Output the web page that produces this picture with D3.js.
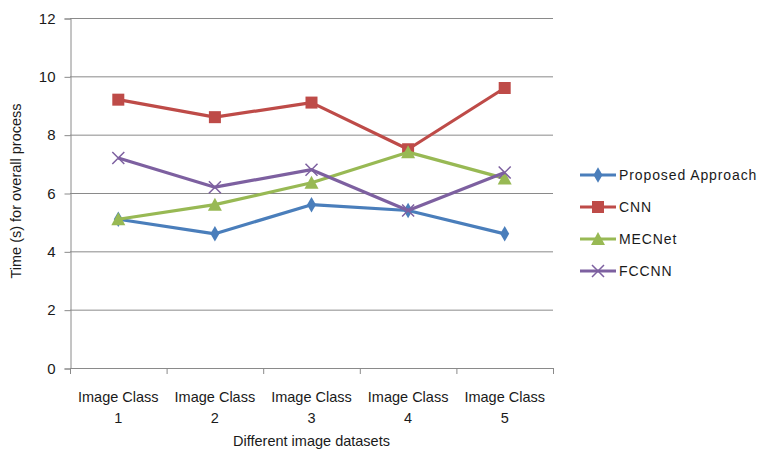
<!DOCTYPE html>
<html>
<head>
<meta charset="utf-8">
<script src="https://cdn.jsdelivr.net/npm/d3@7"></script>
<style>
  body { margin: 0; background: #fff; }
  text { font-family: "Liberation Sans", Arial, sans-serif; fill: #1a1a1a; }
</style>
</head>
<body>
<svg id="chart" width="763" height="450"></svg>
<script>
// Categories and series
const categories = ["Image Class 1", "Image Class 2", "Image Class 3", "Image Class 4", "Image Class 5"];
const proposed = [5.1, 4.6, 5.6, 5.4, 4.6];
const cnn = [9.2, 8.6, 9.1, 7.5, 9.6];
const mecnet = [5.1, 5.6, 6.35, 7.4, 6.5];
const fccnn = [7.2, 6.2, 6.8, 5.4, 6.7];
const yTicks = [0, 2, 4, 6, 8, 10, 12];

const series = [
  { name: "Proposed Approach", values: proposed, color: "#4A7EBB", symbol: "diamond" },
  { name: "CNN", values: cnn, color: "#BE4B48", symbol: "square" },
  { name: "MECNet", values: mecnet, color: "#98B954", symbol: "triangle" },
  { name: "FCCNN", values: fccnn, color: "#7D60A0", symbol: "cross" }
];

const svg = d3.select("#chart");
const plotL = 70, plotR = 553, plotT = 18, plotB = 368;

const x = d3.scaleBand().domain(categories).range([plotL, plotR]).padding(0);
const y = d3.scaleLinear().domain([0, 12]).range([plotB, plotT]);
const grid = "#8A8A8A";

// Horizontal gridlines
svg.append("g").selectAll("line").data(yTicks.filter(d => d > 0)).join("line")
  .attr("x1", plotL).attr("x2", plotR)
  .attr("y1", d => y(d) + 0.5).attr("y2", d => y(d) + 0.5)
  .attr("stroke", grid).attr("stroke-width", 1);

// Y axis
const yAxis = svg.append("g").attr("transform", `translate(${plotL + 0.5},0.5)`)
  .call(d3.axisLeft(y).tickValues(yTicks).tickSize(6).tickPadding(9));
yAxis.select(".domain").attr("stroke", grid);
yAxis.selectAll(".tick line").attr("stroke", grid);
yAxis.selectAll(".tick text").attr("font-size", 15).attr("fill", "#1a1a1a")
  .style("font-family", "'Liberation Sans', Arial, sans-serif");

// X axis with ticks at category boundaries
const xg = svg.append("g");
xg.append("line").attr("x1", plotL).attr("x2", plotR)
  .attr("y1", plotB + 0.5).attr("y2", plotB + 0.5).attr("stroke", grid);
const bounds = categories.map(c => x(c)).concat([plotR]);
xg.selectAll("line.tk").data(bounds).join("line").attr("class", "tk")
  .attr("x1", d => d + 0.5).attr("x2", d => d + 0.5)
  .attr("y1", plotB).attr("y2", plotB + 6).attr("stroke", grid);
const cx = c => x(c) + x.bandwidth() / 2;
categories.forEach(c => {
  const cut = c.lastIndexOf(" ");
  const t = xg.append("text").attr("x", cx(c)).attr("y", 402)
    .attr("text-anchor", "middle").attr("font-size", 14.5);
  t.append("tspan").attr("x", cx(c)).attr("dy", 0).text(c.slice(0, cut));
  t.append("tspan").attr("x", cx(c)).attr("dy", 21).text(c.slice(cut + 1));
});

// Axis titles
svg.append("text").attr("x", (plotL + plotR) / 2).attr("y", 446)
  .attr("text-anchor", "middle").attr("font-size", 14.5).text("Different image datasets");
svg.append("text").attr("transform", `translate(21,${(plotT + plotB) / 2 - 2}) rotate(-90)`)
  .attr("text-anchor", "middle").attr("font-size", 14.5).text("Time (s) for overall process");

// Marker drawing
function marker(g, symbol, color, px, py) {
  if (symbol === "diamond") {
    g.append("path").attr("d", d3.symbol(d3.symbolDiamond, 70)())
      .attr("transform", `translate(${px},${py})`).attr("fill", color);
  } else if (symbol === "square") {
    g.append("rect").attr("x", px - 6).attr("y", py - 6).attr("width", 12).attr("height", 12)
      .attr("fill", color);
  } else if (symbol === "triangle") {
    g.append("path").attr("d", `M${px},${py - 7}L${px + 7},${py + 6}L${px - 7},${py + 6}Z`)
      .attr("fill", color);
  } else {
    g.append("path").attr("d", `M${px - 6},${py - 6}L${px + 6},${py + 6}M${px - 6},${py + 6}L${px + 6},${py - 6}`)
      .attr("stroke", color).attr("stroke-width", 1.5).attr("fill", "none");
  }
}

const line = d3.line().x((d, i) => cx(categories[i])).y(d => y(d));
series.forEach(s => {
  const g = svg.append("g");
  g.append("path").attr("d", line(s.values)).attr("fill", "none")
    .attr("stroke", s.color).attr("stroke-width", 3.2).attr("stroke-linejoin", "round");
  s.values.forEach((v, i) => marker(g, s.symbol, s.color, cx(categories[i]), y(v)));
});

// Legend
const lg = svg.append("g");
series.forEach((s, i) => {
  const ly = 175 + i * 32;
  lg.append("line").attr("x1", 580).attr("x2", 616).attr("y1", ly).attr("y2", ly)
    .attr("stroke", s.color).attr("stroke-width", 3);
  marker(lg, s.symbol, s.color, 598, ly);
  lg.append("text").attr("x", 619).attr("y", ly + 5).attr("font-size", 14)
    .attr("letter-spacing", 0.9).text(s.name);
});
</script>
</body>
</html>
